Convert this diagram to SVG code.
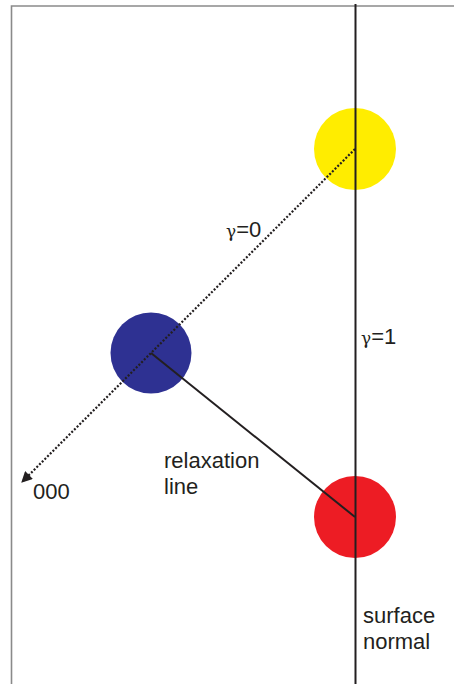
<svg xmlns="http://www.w3.org/2000/svg" width="454" height="684" viewBox="0 0 454 684">
<style>
.t{font-family:"Liberation Sans",Arial,sans-serif;font-size:22px;fill:#231f20}
.g{font-family:"DejaVu Serif","Liberation Serif",serif}
</style>
<defs>
<marker id="ah" viewBox="0 0 10 10" refX="9" refY="5" markerWidth="11" markerHeight="11" markerUnits="userSpaceOnUse" orient="auto">
<path d="M0,0 L10,5 L0,10 z" fill="#231f20"/>
</marker>
</defs>
<rect width="454" height="684" fill="#fff"/>
<path d="M11.5,690 V6 H460" fill="none" stroke="#8a8a8a" stroke-width="1.6"/>
<g id="yellow"><circle cx="355" cy="149" r="41" fill="#ffed00"/></g>
<g id="blue"><circle cx="151" cy="353" r="40.5" fill="#2e3192"/></g>
<g id="red"><circle cx="355" cy="517" r="41" fill="#ed1c24"/></g>
<g id="connectors">
<line x1="355.5" y1="4" x2="355.5" y2="684" stroke="#231f20" stroke-width="2"/>
<line x1="355" y1="149" x2="22" y2="482" stroke="#231f20" stroke-width="2.2" stroke-dasharray="2 1.8" marker-end="url(#ah)"/>
<line x1="151" y1="353" x2="355" y2="517" stroke="#231f20" stroke-width="2"/>
</g>
<g id="labels">
<text class="t" x="226" y="237" font-size="20"><tspan class="g" font-size="17">γ</tspan>=0</text>
<text class="t" x="361" y="344" font-size="20"><tspan class="g" font-size="17">γ</tspan>=1</text>
<text class="t" x="164" y="468">relaxation</text>
<text class="t" x="164" y="494">line</text>
<text class="t" x="33" y="499">000</text>
<text class="t" x="363" y="623">surface</text>
<text class="t" x="363" y="649">normal</text>
</g>
</svg>
